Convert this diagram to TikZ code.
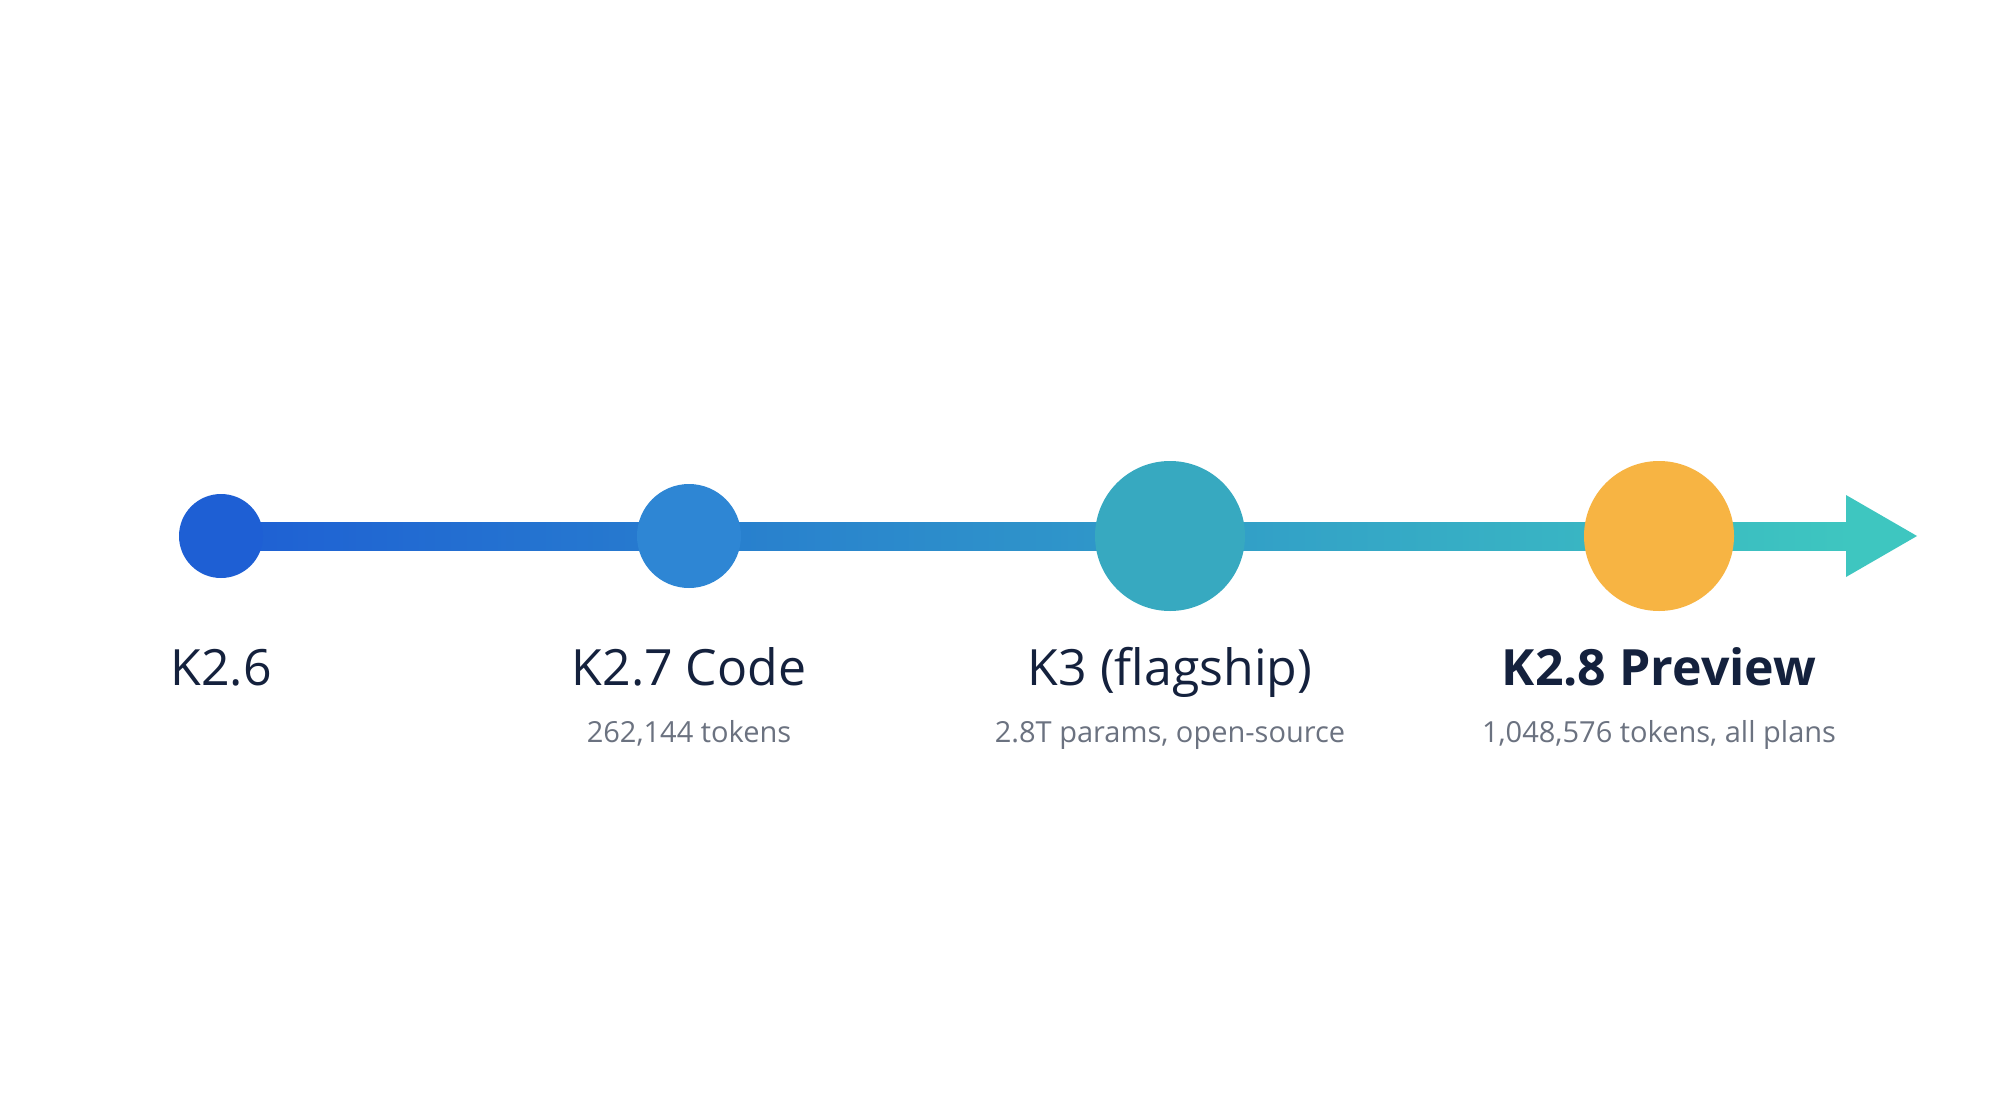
\documentclass[tikz,border=0pt]{standalone}
\usepackage{fontspec}
\setmainfont{Open Sans}
\begin{document}
\begin{tikzpicture}[x=1pt,y=-1pt,
  dot/.style={circle,inner sep=0pt,minimum size=#1},
  title/.style={text=titc,font=\fontsize{50}{56}\selectfont,anchor=base},
  sub/.style={text=subc,font=\fontsize{29}{34}\selectfont,anchor=base}]
\definecolor{titc}{HTML}{14213D}
\definecolor{subc}{HTML}{6B7280}
\definecolor{ca}{HTML}{1E5FD4}
\definecolor{cb}{HTML}{2E86D4}
\definecolor{cc}{HTML}{37A9C0}
\definecolor{cd}{HTML}{F7B443}
\definecolor{ce}{HTML}{3EC6C0}
\useasboundingbox (0,0) rectangle (2000,1116);
\fill[white] (0,0) rectangle (2000,1116);
\shade[left color=ca,right color=ce] (221,522) rectangle (1850,550);
\coordinate (tipA) at (1846,495);
\coordinate (tip) at (1917,536);
\coordinate (tipB) at (1846,577);
\fill[ce] (tipA) -- (tip) -- (tipB) -- cycle;
\node[dot=84,fill=ca] (n1) at (221,536) {};
\node[dot=104,fill=cb] (n2) at (689,536) {};
\node[dot=150,fill=cc] (n3) at (1170,536) {};
\node[dot=150,fill=cd] (n4) at (1659,536) {};
\node[title] (t1) at (221,685) {K2.6};
\node[title] (t2) at (689,685) {K2.7 Code};
\node[title] (t3) at (1170,685) {K3 (flagship)};
\node[title,font=\fontsize{50}{56}\selectfont\bfseries] (t4) at (1659,685) {K2.8 Preview};
\node[sub] (s2) at (689,742) {262,144 tokens};
\node[sub] (s3) at (1170,742) {2.8T params, open-source};
\node[sub] (s4) at (1659,742) {1,048,576 tokens, all plans};
\end{tikzpicture}
\end{document}
